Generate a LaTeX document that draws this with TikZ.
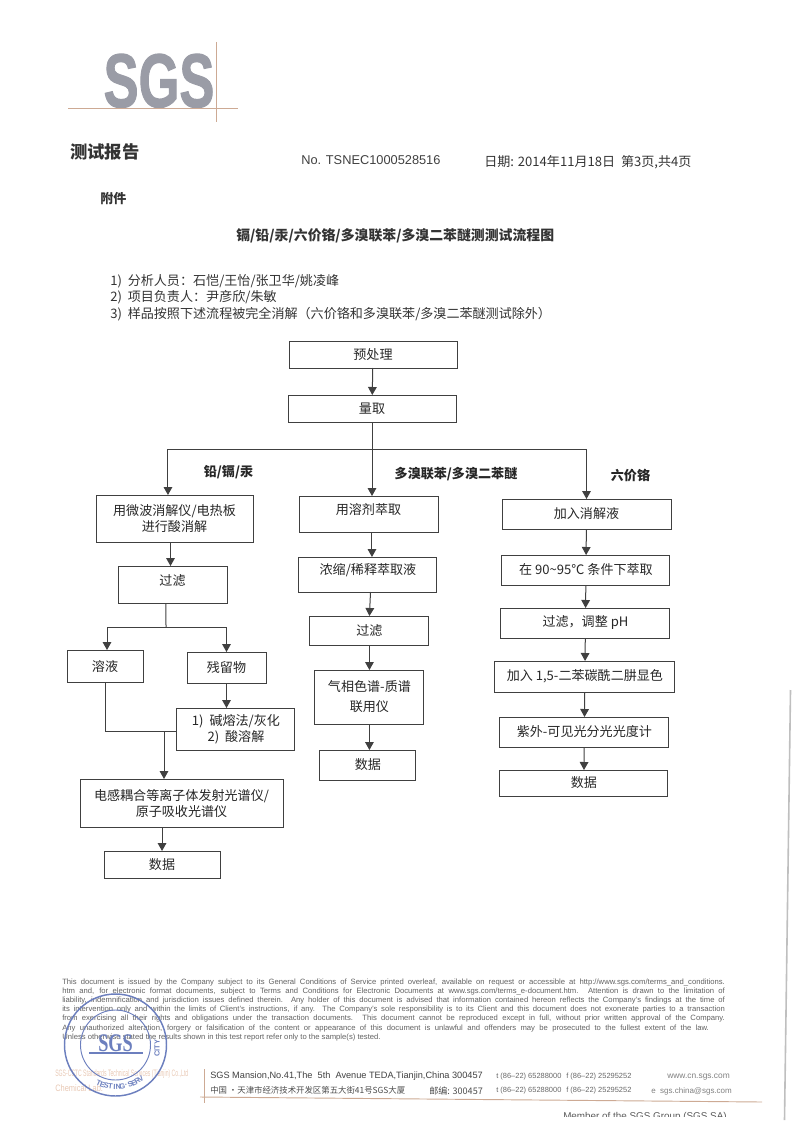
\documentclass[tikz,border=0pt]{standalone}
\usepackage{fontspec}
\setmainfont{Liberation Sans}
\newfontfamily\cjk{Noto Sans CJK SC}
\newfontfamily\stampfont{Liberation Serif}
\newfontface\logofont{Liberation Sans Bold}[FakeBold=1.6]
\usetikzlibrary{arrows.meta,positioning}
\definecolor{logogray}{HTML}{9A9CA6}
\definecolor{logoline}{HTML}{CDAA94}
\definecolor{stampblue}{HTML}{6C7FBE}
\definecolor{inkgray}{HTML}{404040}
\definecolor{pinktext}{HTML}{E8C8B4}

\begin{document}
\begin{tikzpicture}[x=.75pt, y=.75pt,
  block/.style={rectangle, draw=inkgray, line width=.75pt, outer sep=0pt, inner sep=0pt, text=black!85, align=center, font=\cjk\fontsize{9.8}{12}\selectfont},
  arrow/.style={draw=inkgray, line width=.75pt, -{Triangle[length=6pt,width=6.5pt]}},
  line/.style={draw=inkgray, line width=.75pt},
  branch/.style={font=\cjk\bfseries\fontsize{9.8}{12}\selectfont, text=black!85, inner sep=0pt},
  head/.style={anchor=west, inner sep=0pt, text=black!80, font=\cjk\fontsize{9.8}{12}\selectfont},
  latin/.style={anchor=west, inner sep=0pt, text=black!75, font=\fontsize{9.6}{12}\selectfont},
  foot/.style={anchor=west, inner sep=0pt, text=black!60, font=\fontsize{5.6}{7}\selectfont},
  logoedge/.style={draw=logoline, line width=.7pt},
  stamp/.style={inner sep=0pt, text=stampblue, font=\fontsize{5.6}{6}\selectfont\bfseries}]
  \useasboundingbox (0,0) rectangle (794,-1123);

  \node[anchor=base, inner sep=0pt, text=logogray, font=\logofont\fontsize{57}{60}\selectfont] (logo) at (159,-107) {\scalebox{.69}[1]{SGS}};
  \coordinate (logoleft) at (68,-108.5);
  \coordinate (logoright) at (238,-108.5);
  \coordinate (logotop) at (216.5,-42);
  \coordinate (logobottom) at (216.5,-122);
  \draw[logoedge] (logoleft) -- (logoright);
  \draw[logoedge] (logotop) -- (logobottom);

  \node[head, font=\cjk\bfseries\fontsize{13}{15}\selectfont] (report) at (70,-152) {测试报告};
  \node[latin] (number) at (301,-160) {No. TSNEC1000528516};
  \node[head] (date) at (484,-162) {日期: 2014年11月18日 \ 第3页,共4页};
  \node[head, font=\cjk\bfseries\fontsize{9.8}{12}\selectfont] (annex) at (100,-199) {附件};
  \node[head, font=\cjk\bfseries\fontsize{10.4}{12}\selectfont] (title) at (236,-236) {镉/铅/汞/六价铬/多溴联苯/多溴二苯醚测测试流程图};
  \node[head] (staff) at (110,-281) {1) \ 分析人员：石恺/王怡/张卫华/姚凌峰};
  \node[head] (leader) at (110,-297) {2) \ 项目负责人：尹彦欣/朱敏};
  \node[head] (sample) at (110,-314) {3) \ 样品按照下述流程被完全消解（六价铬和多溴联苯/多溴二苯醚测试除外）};

  \node[block, minimum width=126pt, minimum height=20.25pt] (pretreat) at (373,-354.5) {预处理};
  \node[block, minimum width=126pt, minimum height=20.25pt, below=20.25pt of pretreat, xshift=-.75pt] (measure) {量取};
  \coordinate (bus) at (372,-449);

  \node[block, minimum width=117.75pt, minimum height=35.25pt] (digest) at (174.5,-518.5) {用微波消解仪/电热板\\进行酸消解};
  \node[block, minimum width=81.75pt, minimum height=27.75pt, below=18pt of digest, xshift=-1.5pt, text depth=7pt] (filtera) {过滤};
  \node[block, minimum width=57pt, minimum height=24pt] (solution) at (105,-666) {溶液};
  \node[block, minimum width=59.25pt, minimum height=23.25pt] (residue) at (226.5,-667.5) {残留物};
  \node[block, minimum width=88.5pt, minimum height=31.5pt, below=18.75pt of residue, xshift=7.1pt] (alkali) {1) \ 碱熔法/灰化\\2) \ 酸溶解};
  \node[block, minimum width=152.25pt, minimum height=36pt] (icp) at (181.5,-803) {电感耦合等离子体发射光谱仪/\\原子吸收光谱仪};
  \node[block, minimum width=87pt, minimum height=20.25pt, below=18pt of icp, xshift=-14.6pt] (dataa) {数据};
  \coordinate (split) at (166,-627);
  \coordinate (merge) at (164,-732);

  \node[block, minimum width=104.25pt, minimum height=27pt, text depth=8pt] (solvent) at (368.5,-514) {用溶剂萃取};
  \node[block, minimum width=103.5pt, minimum height=26.25pt, below=18.75pt of solvent, xshift=-.4pt, text depth=8pt] (concentrate) {浓缩/稀释萃取液};
  \node[block, minimum width=89.25pt, minimum height=21.75pt, below=18pt of concentrate, xshift=1.1pt] (filterb) {过滤};
  \node[block, minimum width=81.75pt, minimum height=40.5pt, below=18.75pt of filterb, font=\cjk\fontsize{9.8}{15}\selectfont] (gcms) {气相色谱-质谱\\联用仪};
  \node[block, minimum width=72pt, minimum height=22.5pt, below=19.5pt of gcms, xshift=-1.1pt] (datab) {数据};

  \node[block, minimum width=126.75pt, minimum height=22.5pt] (dissolve) at (586.5,-514) {加入消解液};
  \node[block, minimum width=126pt, minimum height=22.5pt, below=19.5pt of dissolve, xshift=-.4pt] (extract) {在 90\textasciitilde95℃ 条件下萃取};
  \node[block, minimum width=126.75pt, minimum height=22.5pt, below=17.25pt of extract, xshift=-.4pt] (filterc) {过滤，调整 pH};
  \node[block, minimum width=135pt, minimum height=23.25pt, below=17.25pt of filterc, xshift=-.4pt] (colour) {加入 1,5-二苯碳酰二肼显色};
  \node[block, minimum width=126.75pt, minimum height=22.5pt, below=18.75pt of colour, xshift=-.4pt] (uvvis) {紫外-可见光分光光度计};
  \node[block, minimum width=126pt, minimum height=19.5pt, below=17.25pt of uvvis, xshift=-.4pt] (datac) {数据};

  \node[branch] (leadlabel) at (228.5,-472) {铅/镉/汞};
  \node[branch] (pbblabel) at (456,-474) {多溴联苯/多溴二苯醚};
  \node[branch] (chromelabel) at (630.5,-475) {六价铬};

  \draw[arrow] (pretreat) -- (measure);
  \draw[line] (measure.south) -- (bus);
  \draw[line] ([xshift=-4.9pt]digest.north |- bus) -- (dissolve.north |- bus);
  \draw[arrow] ([xshift=-4.9pt]digest.north |- bus) -- ([xshift=-4.9pt]digest.north);
  \draw[arrow] (bus) -- (bus |- solvent.north);
  \draw[arrow] (dissolve.north |- bus) -- (dissolve.north);

  \draw[arrow] ([xshift=-3pt]digest.south) -- ([xshift=-1.5pt]filtera.north);
  \draw[line] ([xshift=-4.9pt]filtera.south) -- (split);
  \draw[arrow] (split) -| ([xshift=1.5pt]solution.north);
  \draw[arrow] (split) -| (residue.north);
  \draw[arrow] (residue.south) -- ([xshift=-7.1pt]alkali.north);
  \draw[line] (solution.south) |- ([yshift=-2.2pt]alkali.west);
  \draw[arrow] (merge) -- (merge |- icp.north);
  \draw[arrow] (dataa.north |- icp.south) -- (dataa.north);

  \draw[arrow] ([xshift=2.6pt]solvent.south) -- ([xshift=3pt]concentrate.north);
  \draw[arrow] ([xshift=1.9pt]concentrate.south) -- (filterb.north);
  \draw[arrow] (filterb) -- (gcms);
  \draw[arrow] (gcms) -- ([xshift=1.1pt]datab.north);

  \draw[arrow] (dissolve) -- (extract);
  \draw[arrow] (extract) -- (filterc);
  \draw[arrow] (filterc) -- (colour);
  \draw[arrow] (colour) -- (uvvis);
  \draw[arrow] (uvvis) -- (datac);

  \node[anchor=north west, inner sep=0pt, text=black!62, font=\fontsize{5.75}{6.85}\selectfont, align=left] (notice) at (62,-978.5) {%
    \makebox[497pt][s]{This document is issued by the Company subject to its General Conditions of Service printed overleaf, available on request or accessible at http://www.sgs.com/terms\_and\_conditions.}\\
    \makebox[497pt][s]{htm and, for electronic format documents, subject to Terms and Conditions for Electronic Documents at www.sgs.com/terms\_e-document.htm. Attention is drawn to the limitation of}\\
    \makebox[497pt][s]{liability, indemnification and jurisdiction issues defined therein. Any holder of this document is advised that information contained hereon reflects the Company's findings at the time of}\\
    \makebox[497pt][s]{its intervention only and within the limits of Client's instructions, if any. The Company's sole responsibility is to its Client and this document does not exonerate parties to a transaction}\\
    \makebox[497pt][s]{from exercising all their rights and obligations under the transaction documents. This document cannot be reproduced except in full, without prior written approval of the Company.}\\
    \makebox[485pt][s]{Any unauthorized alteration, forgery or falsification of the content or appearance of this document is unlawful and offenders may be prosecuted to the fullest extent of the law.}\\
    Unless otherwise stated the results shown in this test report refer only to the sample(s) tested.};

  \node[anchor=west, inner sep=0pt, text=pinktext, font=\fontsize{7}{9}\selectfont] (company) at (55,-1074) {\scalebox{.55}[1]{SGS-CSTC Standards Technical Services (Tianjin) Co.,Ltd}};
  \node[anchor=west, inner sep=0pt, text=pinktext, font=\fontsize{7}{9}\selectfont] (lab) at (55,-1088) {\scalebox{.8}[1]{Chemical Lab.}};

  \coordinate (rulestart) at (200,-1097);
  \coordinate (ruleend) at (762,-1102);
  \coordinate (ticktop) at (204,-1069);
  \coordinate (tickbottom) at (204,-1103);
  \draw[logoedge] (rulestart) -- (ruleend);
  \draw[logoedge] (ticktop) -- (tickbottom);

  \node[foot, text=black!75, font=\fontsize{6.9}{9}\selectfont] (address) at (210,-1076) {SGS Mansion,No.41,The \ 5th \ Avenue TEDA,Tianjin,China 300457};
  \node[foot, text=black!70, font=\cjk\fontsize{6.3}{8}\selectfont] (addresscn) at (210,-1090) {中国 ·天津市经济技术开发区第五大街41号SGS大厦};
  \node[foot, text=black!70, font=\cjk\fontsize{6.8}{8}\selectfont] (postcode) at (429,-1091) {邮编: 300457};
  \node[foot] (phone) at (496,-1077) {t (86--22) 65288000};
  \node[foot] (fax) at (566,-1077) {f (86--22) 25295252};
  \node[foot] (phonetwo) at (496,-1091) {t (86--22) 65288000};
  \node[foot] (faxtwo) at (566,-1091) {f (86--22) 25295252};
  \node[foot, text=black!50, font=\fontsize{6.3}{8}\selectfont] (web) at (667,-1077) {www.cn.sgs.com};
  \node[foot, text=black!50, font=\fontsize{6}{8}\selectfont] (mail) at (651,-1091) {e \ sgs.china@sgs.com};
  \begin{scope}
    \clip (500,-1100) rectangle (794,-1116);
    \node[foot, text=black!65, font=\fontsize{7.4}{9}\selectfont] (member) at (563,-1117) {Member of the SGS Group (SGS SA)};
  \end{scope}

  \coordinate (edgetop) at (790.5,-690);
  \coordinate (edgebottom) at (784.5,-1120);
  \draw[draw=black!25, line width=1.2pt] (edgetop) -- (edgebottom);

  \coordinate (stampcentre) at (115.5,-1045);
  \draw[draw=stampblue, line width=1.1pt] (stampcentre) circle (51);
  \draw[draw=stampblue, line width=.7pt] (stampcentre) circle (35);
  \node[inner sep=0pt, text=stampblue, font=\stampfont\bfseries\fontsize{19}{20}\selectfont] (stampsgs) at (115.5,-1043) {\scalebox{.72}[1]{SGS}};
  \coordinate (stampleft) at (89,-1053);
  \coordinate (stampright) at (143,-1053);
  \draw[draw=stampblue, line width=.8pt] (stampleft) -- (stampright);
  \foreach \ch [count=\i] in {T,E,S,T,I,N,G,·,S,E,R,V}
    \path (stampcentre) ++({241+\i*5.5}:42) node[stamp, rotate={331+\i*5.5}] (stampch\i) {\ch};
  \node[stamp, rotate=90] (stampcity) at (157,-1048) {CITY};
\end{tikzpicture}
\end{document}
